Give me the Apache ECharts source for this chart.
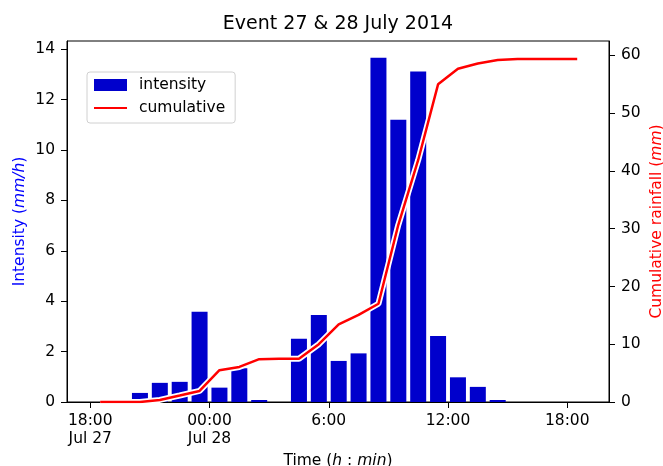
<!DOCTYPE html>
<html>
<head>
<meta charset="utf-8">
<script src="https://cdn.jsdelivr.net/npm/echarts@6/dist/echarts.min.js"></script>
<style>
  html, body { margin: 0; padding: 0; background: #fff; }
  #chart { width: 663px; height: 466px; }
</style>
</head>
<body>
<div id="chart"></div>
<script>
// hours counted from Jul 27 00:00 (24 = Jul 28 00:00)
const barHours = [20.5, 21.5, 22.5, 23.5, 24.5, 25.5, 26.5, 28.5, 29.5, 30.5, 31.5, 32.5, 33.5, 34.5, 35.5, 36.5, 37.5, 38.5]
const intensity = [0.36, 0.76, 0.80, 3.58, 0.57, 1.34, 0.08, 2.51, 3.45, 1.63, 1.93, 13.67, 11.20, 13.12, 2.62, 0.98, 0.60, 0.08]

const lineHours = [18.5, 19.5, 20.5, 21.5, 22.5, 23.5, 24.5, 25.5, 26.5, 27.5, 28.5, 29.5, 30.5, 31.5, 32.5, 33.5, 34.5, 35.5, 36.5, 37.5, 38.5, 39.5, 40.5, 41.5, 42.5]
const cumulative = [0, 0, 0, 0.36, 1.12, 1.92, 5.5, 6.07, 7.41, 7.49, 7.49, 10.0, 13.45, 15.08, 17.01, 30.68, 41.9, 55.0, 57.7, 58.6, 59.2, 59.4, 59.4, 59.4, 59.4]

const xTickHours = [18, 24, 30, 36, 42]
const xTickLabels = ['18:00\nJul 27', '00:00\nJul 28', '6:00', '12:00', '18:00']
const leftTicks = [0, 2, 4, 6, 8, 10, 12, 14]
const rightTicks = [0, 10, 20, 30, 40, 50, 60]

const font = 'DejaVu Sans'
const fs = 15.5
const barColor = '#0000cc'
const lineColor = '#ff0000'

const chart = echarts.init(document.getElementById('chart'))

const tickStyle = { color: '#000', fontFamily: font, fontSize: fs }

function richName(color) {
  return {
    rich: {
      n: { fontFamily: font, fontSize: fs, color: color },
      i: { fontFamily: font, fontSize: fs, color: color, fontStyle: 'italic' }
    }
  }
}

chart.setOption({
  animation: false,
  textStyle: { fontFamily: font },
  title: {
    text: 'Event 27 & 28 July 2014',
    left: 338,
    textAlign: 'center',
    top: 15,
    padding: 0,
    textStyle: { fontFamily: font, fontSize: 19, fontWeight: 'normal', color: '#000' }
  },
  legend: {
    data: [
      { name: 'intensity', icon: 'rect' },
      { name: 'cumulative', icon: 'path://M0,0H33V2H0Z' }
    ],
    orient: 'vertical',
    left: 87,
    top: 72,
    padding: [5, 10, 7, 7],
    itemWidth: 33,
    itemHeight: 12,
    itemGap: 7,
    borderColor: '#d0d0d0',
    borderWidth: 1,
    borderRadius: 3,
    backgroundColor: 'rgba(255,255,255,0.8)',
    textStyle: { fontFamily: font, fontSize: fs, color: '#000', padding: [0, 0, 0, 7] }
  },
  grid: {
    left: 67,
    right: 54,
    top: 41,
    bottom: 64,
    outerBoundsMode: 'none',
    show: true,
    borderColor: '#000',
    borderWidth: 1
  },
  xAxis: {
    type: 'value',
    min: 16.83,
    max: 44.1,
    name: '{n|Time (}{i|h}{n| : }{i|min}{n|)}',
    nameLocation: 'middle',
    nameMoveOverlap: false,
    nameGap: 51,
    nameTextStyle: richName('#000'),
    axisLine: { lineStyle: { color: '#000', width: 1 } },
    axisTick: { length: 6, customValues: xTickHours, lineStyle: { color: '#000' } },
    axisLabel: Object.assign({
      customValues: xTickHours,
      margin: 10,
      lineHeight: 18,
      formatter: v => xTickLabels[xTickHours.indexOf(v)]
    }, tickStyle),
    splitLine: { show: false }
  },
  yAxis: [{
    type: 'value',
    min: 0,
    max: 14.33,
    position: 'left',
    name: '{n|Intensity (}{i|mm/h}{n|)}',
    nameLocation: 'middle',
    nameMoveOverlap: false,
    nameRotate: 90,
    nameGap: 39,
    nameTextStyle: richName('#0000ff'),
    axisLine: { show: true, lineStyle: { color: '#000', width: 1 } },
    axisTick: { show: true, length: 6, customValues: leftTicks, lineStyle: { color: '#000' } },
    axisLabel: Object.assign({ customValues: leftTicks, margin: 12 }, tickStyle),
    splitLine: { show: false }
  }, {
    type: 'value',
    min: 0,
    max: 62.5,
    position: 'right',
    name: '{n|Cumulative rainfall (}{i|mm}{n|)}',
    nameLocation: 'middle',
    nameMoveOverlap: false,
    nameRotate: 90,
    nameGap: 40,
    nameTextStyle: richName('#ff0000'),
    axisLine: { show: true, lineStyle: { color: '#000', width: 1 } },
    axisTick: { show: true, length: 6, customValues: rightTicks, lineStyle: { color: '#000' } },
    axisLabel: Object.assign({ customValues: rightTicks, margin: 12 }, tickStyle),
    splitLine: { show: false }
  }],
  series: [{
    name: 'intensity',
    type: 'bar',
    barWidth: 16,
    yAxisIndex: 0,
    itemStyle: { color: barColor },
    data: barHours.map((h, i) => [h, intensity[i]])
  }, {
    // white halo under the red line
    name: 'halo',
    type: 'line',
    yAxisIndex: 1,
    symbol: 'none',
    lineStyle: { color: '#fff', width: 6 },
    data: lineHours.map((h, i) => [h, cumulative[i]])
  }, {
    name: 'cumulative',
    type: 'line',
    yAxisIndex: 1,
    symbol: 'none',
    itemStyle: { color: lineColor },
    lineStyle: { color: lineColor, width: 2.5 },
    data: lineHours.map((h, i) => [h, cumulative[i]])
  }]
})
</script>
</body>
</html>
